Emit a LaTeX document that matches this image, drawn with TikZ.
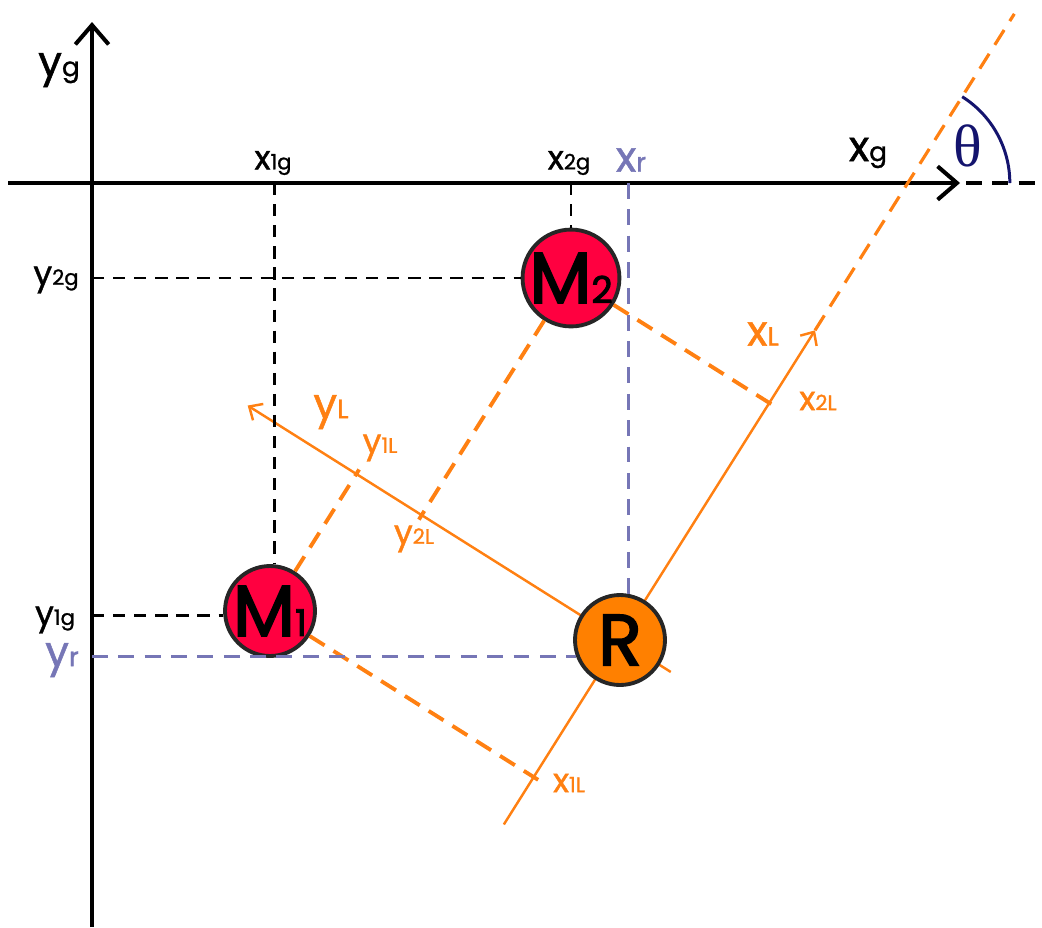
\documentclass[tikz,border=0pt]{standalone}
\usepackage{fontspec}
\setmainfont{Poppins}[FakeBold=1.2]
\newfontfamily\lblfont{Poppins}[FakeBold=1.2]
\newfontfamily\massfont{Poppins}[FakeBold=2.5]
\newfontfamily\thetafont{Liberation Serif}
\usetikzlibrary{arrows.meta,calc}
\definecolor{massred}{HTML}{FF0040}
\definecolor{robor}{HTML}{FF8000}
\definecolor{lorange}{HTML}{FF8012}
\definecolor{refblue}{HTML}{7676B6}
\definecolor{angnavy}{HTML}{14146E}
\newcommand{\bigsub}[1]{{\fontsize{15}{15}\selectfont#1}}
\newcommand{\smsub}[1]{{\fontsize{12}{12}\selectfont#1}}
\newcommand{\msub}[1]{{\fontsize{21}{21}\selectfont#1}}

\begin{document}
\begin{tikzpicture}[x=0.02cm,y=-0.02cm,>={Straight Barb[length=6pt,width=11pt]}]
  \tikzstyle{mass}=[circle,draw=black!85,line width=2.2pt,minimum size=1.8cm,inner sep=0pt,font=\massfont\fontsize{41}{41}\selectfont]
  \tikzstyle{axis}=[line width=2.3pt]
  \tikzstyle{gproj}=[line width=1.7pt,dash pattern=on 7pt off 5pt]
  \tikzstyle{rproj}=[refblue,line width=1.7pt,dash pattern=on 9pt off 6pt]
  \tikzstyle{lproj}=[lorange,line width=2.2pt,dash pattern=on 10pt off 6pt]
  \tikzstyle{laxis}=[lorange,line width=1.4pt]
  \tikzstyle{big}=[font=\lblfont\fontsize{24}{24}\selectfont,inner sep=0pt]
  \tikzstyle{small}=[font=\lblfont\fontsize{19}{19}\selectfont,inner sep=0pt]

  \useasboundingbox (0,0) rectangle (1042,927);

  % global frame
  \coordinate (O) at (92,183);
  \coordinate (ybot) at (92,927);
  \coordinate (ytop) at (92,22);
  \coordinate (xleft) at (8,183);
  \coordinate (xtip) at (960,183);
  \coordinate (xdash) at (966,183);
  \coordinate (xfar) at (1042,183);
  \draw[axis,-{Straight Barb[length=11pt,width=19pt]}] (ybot) -- (ytop);
  \draw[axis,-{Straight Barb[length=11pt,width=19pt]}] (xleft) -- (xtip);
  \draw[axis,dash pattern=on 9pt off 6pt] (xdash) -- (xfar);

  % local frame of R
  \coordinate (r) at (620,640);
  \coordinate (xLbot) at ($(r)+(122.2:218)$);
  \coordinate (xLtip) at ($(r)+(-57.8:366)$);
  \coordinate (xLend) at ($(r)+(-57.8:740)$);
  \coordinate (yLtip) at ($(r)+(-147.8:440)$);
  \coordinate (yLbot) at ($(r)+(32.2:60)$);
  \draw[laxis,->] (xLbot) -- (xLtip);
  \draw[laxis,->] (yLbot) -- (yLtip);
  \draw[lproj,line width=1.8pt] (xLtip) -- (xLend);
  \coordinate (cross) at (intersection of r--xLend and xleft--xfar);
  \draw[angnavy,line width=1.7pt] ($(cross)+(102,0)$) arc[start angle=0,end angle=-57.8,radius=102];

  % masses and robot
  \node[mass,fill=massred] (M1) at (270,611) {M\msub{1}};
  \node[mass,fill=massred] (M2) at (571,278) {M\msub{2}};
  \node[mass,fill=robor] (R) at (r) {R};

  % projections
  \coordinate (x1L) at ($(r)!(M1)!(xLtip)$);
  \coordinate (x2L) at ($(r)!(M2)!(xLtip)$);
  \coordinate (y1L) at ($(r)!(M1)!(yLtip)$);
  \coordinate (y2L) at ($(r)!(M2)!(yLtip)$);
  \draw[lproj,shorten >=-3pt] (M1) -- (x1L);
  \draw[lproj,shorten >=-3pt] (M1) -- (y1L);
  \draw[lproj,shorten >=-3pt] (M2) -- (x2L);
  \draw[lproj,shorten >=-3pt] (M2) -- (y2L);
  \draw[gproj] (M1.84 |- O) -- (M1.84);
  \draw[gproj] (M2.north |- O) -- (M2.north);
  \draw[gproj] (M2.west -| O) -- (M2.west);
  \draw[gproj] (M1.186 -| O) -- (M1.186);
  \draw[rproj] (R.80 |- O) -- (R.80);
  \draw[rproj] (R.200 -| O) -- (R.200);

  % labels
  \node[big] (yg) at (59,70) {y\bigsub{g}};
  \node[big] (xg) at (868,153) {x\bigsub{g}};
  \node[font=\thetafont\fontsize{34}{34}\selectfont,text=angnavy,inner sep=0pt] (th) at (968,146) {θ};
  \node[small] (x1g) at (273,163) {x\smsub{1g}};
  \node[small] (x2g) at (569,163) {x\smsub{2g}};
  \node[big,text=refblue] (xr) at (631,160) {x\bigsub{r}};
  \node[small] (y2g) at (56,280) {y\smsub{2g}};
  \node[small] (y1g) at (55,620) {y\smsub{1g}};
  \node[big,text=refblue] (yr) at (62,660) {y\bigsub{r}};
  \node[big,text=lorange] (xLl) at (763,334) {x\bigsub{L}};
  \node[big,text=lorange] (yLl) at (331,412) {y\bigsub{L}};
  \node[small,text=lorange] (x2Ll) at (818,401) {x\smsub{2L}};
  \node[small,text=lorange] (x1Ll) at (569,783) {x\smsub{1L}};
  \node[small,text=lorange] (y1Ll) at (380,448) {y\smsub{1L}};
  \node[small,text=lorange] (y2Ll) at (414,539) {y\smsub{2L}};
\end{tikzpicture}
\end{document}
